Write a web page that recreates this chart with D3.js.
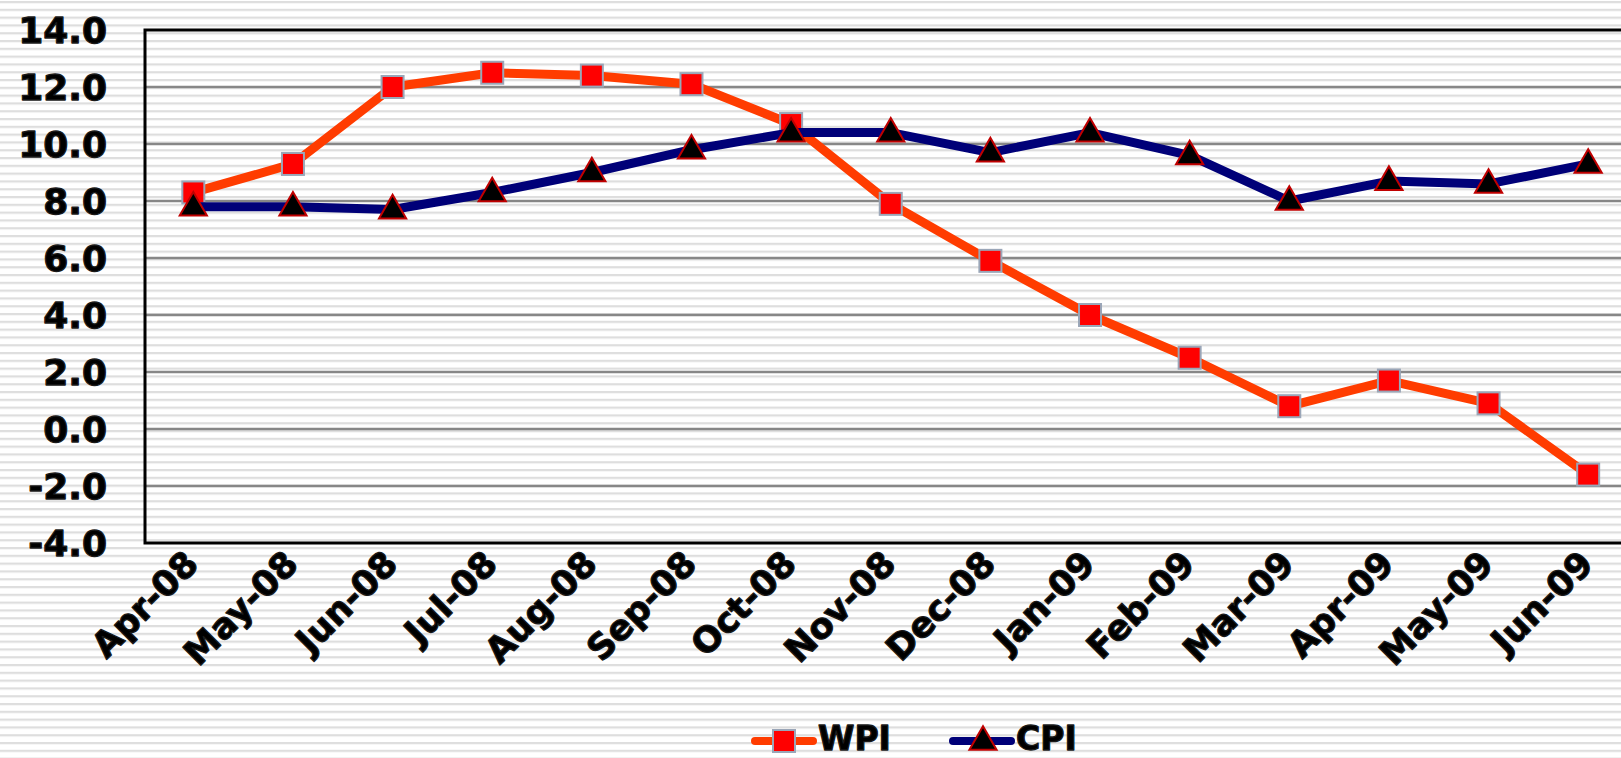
<!DOCTYPE html>
<meta charset="utf-8">
<style>
	body { margin: 0; background: #fff; }
	svg { display: block; }
	.lbl {
	  font-family: "DejaVu Sans", Verdana, sans-serif;
	  font-weight: bold;
	  fill: #000;
	  stroke: #1a1a1a;
	  stroke-width: 1.3px;
	  stroke-linejoin: round;
	}
</style>
<body>
<script src="https://d3js.org/d3.v7.min.js"></script>
<script>
// month labels on the category axis
var months = ["Apr-08","May-08","Jun-08","Jul-08","Aug-08","Sep-08","Oct-08","Nov-08",
	"Dec-08","Jan-09","Feb-09","Mar-09","Apr-09","May-09","Jun-09"];
var wpi = [8.3, 9.3, 12.0, 12.5, 12.4, 12.1, 10.7, 7.9, 5.9, 4.0, 2.5, 0.8, 1.7, 0.9, -1.6];
var cpi = [7.8, 7.8, 7.7, 8.3, 9.0, 9.8, 10.4, 10.4, 9.7, 10.4, 9.6, 8.0, 8.7, 8.6, 9.3];
var yTicks = [14, 12, 10, 8, 6, 4, 2, 0, -2, -4];
var seriesNames = ["WPI", "CPI"];

(function(){
	var W = 1621, H = 758;
	var svg = d3.select("body").append("svg").attr("width", W).attr("height", H);

	// striped backdrop
	var pat = svg.append("defs").append("pattern")
		.attr("id", "stripes").attr("patternUnits", "userSpaceOnUse")
		.attr("width", 10).attr("height", 7.8);
	pat.append("rect").attr("width", 10).attr("height", 7.8).attr("fill", "#fff");
	pat.append("rect").attr("y", 1).attr("width", 10).attr("height", 2.2).attr("fill", "#dedede");
	svg.append("rect").attr("width", W).attr("height", H).attr("fill", "url(#stripes)");

	var x = d3.scalePoint().domain(months).range([143.5, 1638]).padding(0.5),
		y = d3.scaleLinear().domain([-4, 14]).range([543, 30]);

	// gridlines
	svg.append("g").selectAll("line")
		.data(yTicks.filter(function(d){ return d > -4 && d < 14; }))
		.enter().append("line")
		.attr("x1", 145).attr("x2", W)
		.attr("y1", function(d){ return y(d); }).attr("y2", function(d){ return y(d); })
		.attr("stroke", "#878787").attr("stroke-width", 2.5);

	// plot frame
	svg.append("path")
		.attr("d", "M" + W + "," + y(14) + "H145V" + y(-4) + "H" + W)
		.attr("fill", "none").attr("stroke", "#000").attr("stroke-width", 3);

	// y labels
	svg.append("g").selectAll("text")
		.data(yTicks).enter().append("text")
		.attr("class", "lbl")
		.attr("x", 107).attr("y", function(d){ return y(d); })
		.attr("dy", "0.36em")
		.attr("text-anchor", "end")
		.style("font-size", "36px")
		.text(function(d){ return d3.format(".1f")(d).replace("−", "-"); });

	// x labels
	svg.append("g").selectAll("text")
		.data(months).enter().append("text")
		.attr("class", "lbl")
		.attr("transform", function(d){ return "translate(" + (x(d) + 7) + ",566) rotate(-45)"; })
		.attr("text-anchor", "end")
		.style("font-size", "35px")
		.text(function(d){ return d; });

	var line = d3.line().x(function(d, i){ return x(months[i]); }).y(function(d){ return y(d); });
	var tri = d3.symbol().type(d3.symbolTriangle).size(320);

	function drawSeries(vals, col, marker) {
		var g = svg.append("g");
		g.append("path").datum(vals)
			.attr("d", line).attr("fill", "none")
			.attr("stroke", col).attr("stroke-width", 9)
			.attr("stroke-linejoin", "round");
		var m = g.selectAll(".m").data(vals).enter();
		if (marker == "sq") {
			m.append("rect")
				.attr("x", function(d, i){ return x(months[i]) - 11; })
				.attr("y", function(d){ return y(d) - 11; })
				.attr("width", 22).attr("height", 22)
				.attr("fill", "#ff0000").attr("stroke", "#9aa6b8").attr("stroke-width", 2);
		} else {
			m.append("path")
				.attr("transform", function(d, i){ return "translate(" + x(months[i]) + "," + (y(d) + 1) + ")"; })
				.attr("d", tri)
				.attr("fill", "#000").attr("stroke", "#c00000").attr("stroke-width", 2);
		}
	}
	drawSeries(wpi, "#ff3c00", "sq");
	drawSeries(cpi, "#000078", "tri");

	// legend
	var leg = svg.append("g");
	var items = [
		{ name: seriesNames[0], x0: 755, col: "#ff3c00", marker: "sq" },
		{ name: seriesNames[1], x0: 953, col: "#000078", marker: "tri" }
	];
	items.forEach(function(it){
		var ly = 741;
		leg.append("line").attr("x1", it.x0).attr("x2", it.x0 + 58)
			.attr("y1", ly).attr("y2", ly)
			.attr("stroke", it.col).attr("stroke-width", 8).attr("stroke-linecap", "round");
		if (it.marker == "sq") {
			leg.append("rect").attr("x", it.x0 + 29 - 11).attr("y", ly - 11)
				.attr("width", 22).attr("height", 22)
				.attr("fill", "#ff0000").attr("stroke", "#9aa6b8").attr("stroke-width", 2);
		} else {
			leg.append("path").attr("transform", "translate(" + (it.x0 + 30) + "," + (ly + 1) + ")")
				.attr("d", tri).attr("fill", "#000").attr("stroke", "#c00000").attr("stroke-width", 2);
		}
		leg.append("text").attr("class", "lbl")
			.attr("x", it.x0 + 63).attr("y", 750)
			.style("font-size", "33px")
			.text(it.name);
	});
})();
</script>
